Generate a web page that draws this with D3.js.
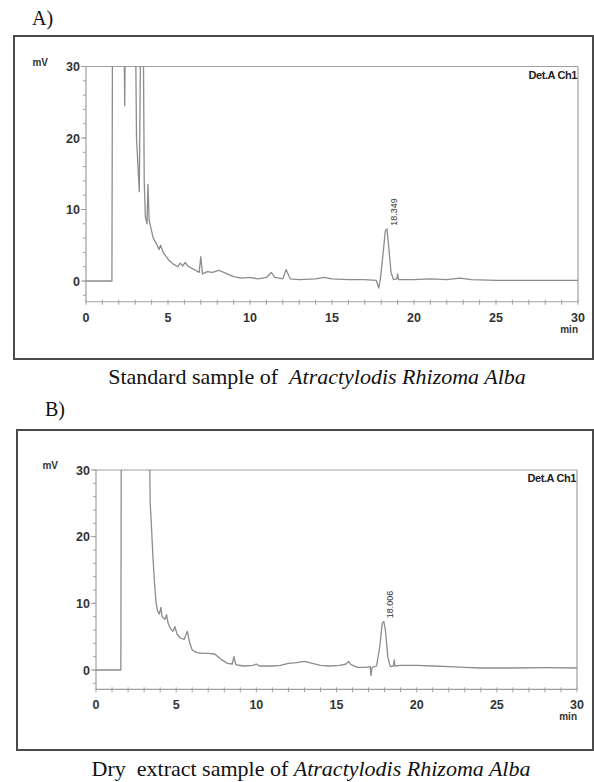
<!DOCTYPE html>
<html>
<head>
<meta charset="utf-8">
<script src="https://cdn.jsdelivr.net/npm/d3@7"></script>
<style>
  body { margin: 0; background: #fff; }
  svg { display: block; }
  .serif { font-family: "Liberation Serif", "Times New Roman", Times, serif; }
  .sans { font-family: "Liberation Sans", Arial, Helvetica, sans-serif; }
</style>
</head>
<body>
<script>
// chromatogram A: standard sample (time in min, signal in mV)
var timesA = [0, 1.58, 1.62, 2.3, 2.36, 2.42, 3.0, 3.08, 3.25, 3.35, 3.48, 3.55, 3.62, 3.72, 3.78, 3.85, 3.95, 4.1, 4.3, 4.45, 4.55, 4.7, 4.9, 5.05, 5.3, 5.6, 5.75, 5.9, 6.05, 6.2, 6.6, 6.9, 7.0, 7.1, 7.4, 7.7, 8.1, 8.5, 9.0, 9.5, 10.0, 10.5, 11.0, 11.3, 11.5, 12.0, 12.2, 12.45, 13.0, 14.0, 14.5, 15.0, 16.0, 17.0, 17.7, 17.85, 17.95, 18.1, 18.25, 18.35, 18.45, 18.6, 18.75, 18.95, 19.0, 19.05, 20, 21, 22, 22.8, 23.5, 25, 27, 30];
var signalA = [0, 0, 40, 40, 24.5, 40, 40, 20, 12.5, 40, 40, 14, 9, 8, 13.5, 8.5, 7.5, 6, 5.2, 4.4, 5.0, 4, 3.4, 2.9, 2.4, 2.0, 2.5, 2.1, 2.6, 2.1, 1.6, 1.2, 3.4, 1.0, 1.3, 1.2, 1.5, 1.1, 0.6, 0.4, 0.5, 0.3, 0.5, 1.2, 0.5, 0.3, 1.6, 0.3, 0.2, 0.3, 0.5, 0.3, 0.2, 0.2, 0.1, -1.0, 0.3, 3.5, 7.0, 7.3, 5, 1.2, 0.2, 0.3, 1.0, 0.2, 0.2, 0.3, 0.2, 0.4, 0.2, 0.1, 0.1, 0.1];

// chromatogram B: dry extract sample
var timesB = [0, 1.55, 1.58, 3.3, 3.38, 3.45, 3.55, 3.65, 3.75, 3.85, 3.95, 4.05, 4.12, 4.3, 4.4, 4.5, 4.65, 4.8, 4.92, 5.05, 5.25, 5.5, 5.7, 5.85, 6.0, 6.3, 6.7, 7.0, 7.4, 7.8, 8.2, 8.5, 8.6, 8.72, 9.2, 9.8, 10.0, 10.2, 11, 11.5, 12, 12.5, 13, 13.5, 14, 14.5, 15.2, 15.6, 15.75, 15.9, 16.3, 16.8, 17.1, 17.15, 17.22, 17.5, 17.7, 17.85, 17.95, 18.05, 18.2, 18.35, 18.55, 18.6, 18.65, 19, 20, 21, 22, 23, 24, 26, 28, 30];
var signalB = [0, 0, 40, 40, 25, 22, 17, 13, 10, 8.8, 8.4, 9.4, 8, 7.6, 8.3, 7, 6.2, 5.8, 6.5, 5.4, 4.8, 4.6, 5.8, 4, 3, 2.6, 2.5, 2.5, 2.4, 1.6, 1.0, 0.9, 2.0, 0.8, 0.6, 0.7, 0.9, 0.6, 0.6, 0.7, 1.0, 1.1, 1.3, 1.0, 0.7, 0.6, 0.7, 0.9, 1.3, 0.8, 0.4, 0.4, 0.5, -0.8, 0.4, 0.6, 3.5, 7, 7.3, 6, 2, 0.5, 0.6, 1.5, 0.6, 0.7, 0.7, 0.6, 0.5, 0.4, 0.3, 0.3, 0.35, 0.3];

var xTicks = [0, 5, 10, 15, 20, 25, 30];
var yTicks = [0, 10, 20, 30];
var peakTimes = [18.35, 17.92];
var peakLabels = ["18.349", "18.006"];
var panelLetters = ["A)", "B)"];
var captionPlain = ["Standard sample of  ", "Dry  extract sample of "];
var captionItalic = "Atractylodis Rhizoma Alba";

var W = 594, H = 782;
var svg = d3.select("body").append("svg").attr("width", W).attr("height", H);

var panels = [
  {frame: [14, 36, 593, 359], left: 86, right: 578, top: 66.5, zero: 281, letter: [32, 25], caption: [317, 384], times: timesA, vals: signalA},
  {frame: [17, 430, 593, 750], left: 96, right: 577, top: 470, zero: 670, letter: [45, 416], caption: [311, 776], times: timesB, vals: signalB}
];

var traceColor = "#8c8c8c", axisColor = "#a0a0a0", labelColor = "#333";

panels.forEach(function(p, i) {
  var g = svg.append("g");
  var f = p.frame;

  g.append("rect")
    .attr("x", f[0]).attr("y", f[1])
    .attr("width", f[2] - f[0]).attr("height", f[3] - f[1])
    .attr("fill", "none").attr("stroke", "#4a4a4a").attr("stroke-width", 2);

  g.append("text").attr("class", "serif")
    .attr("x", p.letter[0]).attr("y", p.letter[1])
    .attr("font-size", 20).attr("fill", "#111")
    .text(panelLetters[i]);

  var cap = g.append("text").attr("class", "serif")
    .attr("x", p.caption[0]).attr("y", p.caption[1])
    .attr("text-anchor", "middle")
    .attr("font-size", 22).attr("fill", "#111");
  cap.append("tspan").style("white-space", "pre").text(captionPlain[i]);
  cap.append("tspan").attr("font-style", "italic").text(captionItalic);

  var x = d3.scaleLinear().domain([0, 30]).range([p.left, p.right]);
  var y = d3.scaleLinear().domain([0, 30]).range([p.zero, p.top]);
  var yMin = -2.9;

  // box lines at the top and right of the plot
  g.append("line").attr("x1", x(0)).attr("x2", x(30)).attr("y1", y(30)).attr("y2", y(30))
    .attr("stroke", axisColor).attr("stroke-width", 1.2);
  g.append("line").attr("x1", x(30)).attr("x2", x(30)).attr("y1", y(30)).attr("y2", y(yMin))
    .attr("stroke", axisColor).attr("stroke-width", 1.2);

  // y axis
  var yAxis = g.append("g").attr("transform", "translate(" + x(0) + ",0)");
  yAxis.append("line").attr("y1", y(30)).attr("y2", y(yMin)).attr("stroke", axisColor).attr("stroke-width", 1.2);
  yAxis.selectAll(".ym").data(d3.range(-2, 31, 2)).enter().append("line")
    .attr("x1", -3).attr("x2", 0)
    .attr("y1", function(d) { return y(d); }).attr("y2", function(d) { return y(d); })
    .attr("stroke", axisColor);
  yAxis.selectAll(".yM").data(yTicks).enter().append("line")
    .attr("x1", -5).attr("x2", 0)
    .attr("y1", function(d) { return y(d); }).attr("y2", function(d) { return y(d); })
    .attr("stroke", axisColor);
  yAxis.selectAll("text").data(yTicks).enter().append("text").attr("class", "sans")
    .attr("x", -6).attr("y", function(d) { return y(d); })
    .attr("dy", "0.36em").attr("text-anchor", "end")
    .attr("font-size", 12.5).attr("font-weight", "bold").attr("fill", labelColor)
    .text(function(d) { return d; });

  // x axis
  var xAxisY = y(yMin);
  var xAxis = g.append("g").attr("transform", "translate(0," + xAxisY + ")");
  xAxis.append("line").attr("x1", x(0)).attr("x2", x(30)).attr("stroke", axisColor).attr("stroke-width", 1.2);
  xAxis.selectAll(".xm").data(d3.range(0, 31, 1)).enter().append("line")
    .attr("x1", function(d) { return x(d); }).attr("x2", function(d) { return x(d); })
    .attr("y1", -2).attr("y2", 3)
    .attr("stroke", axisColor);
  xAxis.selectAll("text").data(xTicks).enter().append("text").attr("class", "sans")
    .attr("x", function(d) { return x(d); }).attr("y", 20)
    .attr("text-anchor", "middle")
    .attr("font-size", 12.5).attr("font-weight", "bold").attr("fill", labelColor)
    .text(function(d) { return d; });

  g.append("text").attr("class", "sans")
    .attr("x", x(30)).attr("y", xAxisY + 31)
    .attr("text-anchor", "end")
    .attr("font-size", 10).attr("font-weight", "bold").attr("fill", labelColor)
    .text("min");

  g.append("text").attr("class", "sans")
    .attr("x", x(0) - 38).attr("y", y(30) - 1)
    .attr("text-anchor", "end")
    .attr("font-size", 10).attr("font-weight", "bold").attr("fill", labelColor)
    .text("mV");

  g.append("text").attr("class", "sans")
    .attr("x", x(30) - 1).attr("y", y(30) + 12)
    .attr("text-anchor", "end")
    .attr("font-size", 11).attr("font-weight", "bold").attr("fill", "#222")
    .attr("letter-spacing", -0.4)
    .text("Det.A Ch1");

  // trace, clipped at the top of the plot
  var clipId = "clip" + i;
  svg.append("clipPath").attr("id", clipId).append("rect")
    .attr("x", x(0)).attr("y", y(30))
    .attr("width", x(30) - x(0)).attr("height", y(yMin) - y(30));

  var pts = p.times.map(function(t, k) { return [t, p.vals[k]]; });
  var line = d3.line().x(function(d) { return x(d[0]); }).y(function(d) { return y(d[1]); });
  g.append("path").datum(pts)
    .attr("clip-path", "url(#" + clipId + ")")
    .attr("d", line)
    .attr("fill", "none").attr("stroke", traceColor).attr("stroke-width", 1.3)
    .attr("stroke-linejoin", "round");

  // peak retention time label
  var peakTop = d3.max(pts.filter(function(d) { return Math.abs(d[0] - peakTimes[i]) < 0.3; }), function(d) { return d[1]; });
  g.append("text").attr("class", "sans")
    .attr("transform", "translate(" + (x(peakTimes[i]) + 10) + "," + (y(peakTop) - 3) + ") rotate(-90)")
    .attr("font-size", 9).attr("fill", "#333")
    .text(peakLabels[i]);
});
</script>
</body>
</html>
